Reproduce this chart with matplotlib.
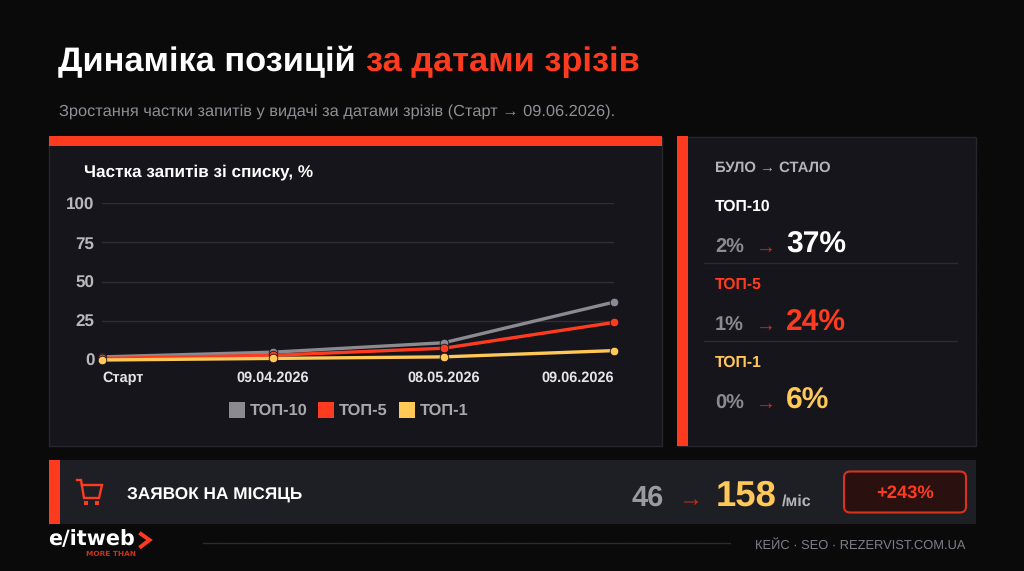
"""
Slide: position dynamics by snapshot dates (dark card layout).
"""

import numpy as np
import matplotlib
matplotlib.use("Agg")
import matplotlib.pyplot as plt
from matplotlib.patches import Rectangle, FancyBboxPatch

# Data
dates = ["Старт", "09.04.2026", "08.05.2026", "09.06.2026"]
x_pos = [0, 1, 2, 3]
top10 = [2, 5, 11, 37]
top5 = [1, 3, 7.5, 24]
top1 = [0, 1, 2, 6]
y_ticks = [0, 25, 50, 75, 100]
series_names = ["ТОП-10", "ТОП-5", "ТОП-1"]
before_vals = ["2%", "1%", "0%"]
after_vals = ["37%", "24%", "6%"]
leads_before = "46"
leads_after = "158"
leads_change = "+243%"

W, H = 1024, 571
BG = "#0a0a0b"
CARD = "#15151b"
EDGE = "#26262c"
RED = "#ff3b1f"
GRAY = "#8a8a90"
YELLOW = "#ffc857"
WHITE = "#ffffff"
series_colors = [GRAY, RED, YELLOW]
value_colors = [WHITE, RED, YELLOW]

plt.rcParams["font.family"] = ["Liberation Sans", "DejaVu Sans"]
plt.rcParams["text.hinting"] = "none"

fig = plt.figure(figsize=(W / 100, H / 100), dpi=100, facecolor=BG)

# overlay in pixel coords
bg = fig.add_axes([0, 0, 1, 1])
bg.set_xlim(0, W)
bg.set_ylim(H, 0)
bg.axis("off")

# faint dot texture on the page
dot_x, dot_y = np.meshgrid(np.arange(10, W, 12), np.arange(10, H, 12))
bg.scatter(dot_x.ravel(), dot_y.ravel(), s=1.2, color="#170c0d", linewidths=0, zorder=0)


def box(x0, y0, x1, y1, color, edge="none", lw=0, z=1):
    bg.add_patch(Rectangle((x0, y0), x1 - x0, y1 - y0, facecolor=color,
                           edgecolor=edge, linewidth=lw, zorder=z))


def label(x, y, s, px, color, weight="normal", ha="left", z=5, **kw):
    # y is the text baseline, px is the font size in pixels
    return bg.text(x, y, s, fontsize=px * 0.72, color=color, fontweight=weight,
                   ha=ha, va="baseline", zorder=z, **kw)


# Title and subtitle
label(58, 71, "Динаміка позицій", 34.4, WHITE, "bold")
label(366, 71, "за датами зрізів", 34.4, RED, "bold")
label(59, 115.5, "Зростання частки запитів у видачі за датами зрізів (Старт → 09.06.2026).",
      16.4, "#8f8f96")

# Chart card
box(48.5, 136.5, 661.5, 445.5, CARD, EDGE, 1)
box(49, 136, 662, 146, RED, z=2)
label(84, 176.5, "Частка запитів зі списку, %", 17.1, WHITE, "bold")

ax = fig.add_axes([102.3 / W, 1 - 360 / H, (614.3 - 102.3) / W, (360 - 203.3) / H])
ax.patch.set_alpha(0)
for name, vals, col in zip(series_names, [top10, top5, top1], series_colors):
    ax.plot(x_pos, vals, color=col, lw=2.4, marker="o", ms=6.2, mec=CARD, mew=0.6,
            label=name, clip_on=False, zorder=3)
ax.set_xlim(0, 3)
ax.set_ylim(0, 100)
ax.set_yticks(y_ticks)
ax.set_xticks(x_pos)
ax.set_xticklabels(dates)
ax.grid(axis="y", color="#2e2e34", lw=1)
ax.set_axisbelow(True)
ax.tick_params(length=0)
ax.tick_params(axis="y", labelsize=17 * 0.72, labelcolor="#b8b8bc", pad=5.5)
ax.tick_params(axis="x", labelsize=14.5 * 0.72, labelcolor="#e4e4e6", pad=8)
for t in ax.get_yticklabels() + ax.get_xticklabels():
    t.set_fontweight("bold")
ax.get_xticklabels()[0].set_ha("left")
ax.get_xticklabels()[-1].set_ha("right")
for s in ax.spines.values():
    s.set_visible(False)

# Legend
legend_x = [229, 318, 399]
for lx, name, col in zip(legend_x, series_names, series_colors):
    box(lx, 402.3, lx + 16, 418.3, col, z=3)
    label(lx + 21, 415, name, 16.4, "#a8a8ac", "bold")

# Right card
box(677.5, 136.5, 975.5, 445.5, CARD, EDGE, 1)
box(677, 136, 688, 446, RED, z=2)
label(715, 172, "БУЛО → СТАЛО", 14.9, "#b4b4b8", "bold")
row_y = [209.5, 288, 366]
for i, name in enumerate(series_names):
    y = row_y[i]
    label(715, y + 1, name, 15.8, value_colors[i], "bold")
    label(715, y + 43, before_vals[i], 20, GRAY, "bold")
    label(756, y + 43, "→", 20, "#c9301a")
    label(786, y + 43, after_vals[i], 30, value_colors[i], "bold")
for y in [262.5, 340.5]:
    bg.plot([704, 957], [y, y], color="#2a2a30", lw=1, zorder=3)

# Bottom strip
box(49, 460, 976, 524, "#1e1e25")
box(49, 460, 60, 524, RED, z=2)
# cart icon
bg.plot([77, 81, 84, 99, 102, 82], [480, 480, 498, 498, 485, 485],
        color=RED, lw=1.7, solid_joinstyle="miter", zorder=3)
box(84, 501, 88, 504.5, RED, z=3)
box(95, 501, 99, 504.5, RED, z=3)
label(127, 499.5, "ЗАЯВОК НА МІСЯЦЬ", 17.2, WHITE, "bold")
label(632, 505.5, leads_before, 29, "#9a9aa0", "bold")
label(678, 506, "→", 24, "#c9301a")
label(716, 505.5, leads_after, 36.5, YELLOW, "bold")
label(782, 505.5, "/міс", 16, "#b4b4b8", "bold")
bg.add_patch(FancyBboxPatch((844, 471.5), 122, 41, boxstyle="round,pad=0,rounding_size=6",
                            facecolor="#2a1110", edgecolor="#d8341c", linewidth=1.5, zorder=3))
label(905, 498, leads_change, 18.4, RED, "bold", ha="center")

# Footer
label(48.5, 545, "e/itweb", 20.8, WHITE, "bold", family="DejaVu Sans")
bg.plot([141, 149.5, 141], [534, 540, 546.5], color=RED, lw=2.8, solid_joinstyle="miter", zorder=5)
label(86.5, 556, "MORE THAN", 7.4, "#c9301a", "bold", family="DejaVu Sans")
bg.plot([203, 730], [542.5, 542.5], color="#2c2c2e", lw=1, zorder=3)
label(755, 549, "КЕЙС · SEO · REZERVIST.COM.UA", 12.9, "#7e7e88")

fig.savefig("out.png", dpi=100, facecolor=BG)
